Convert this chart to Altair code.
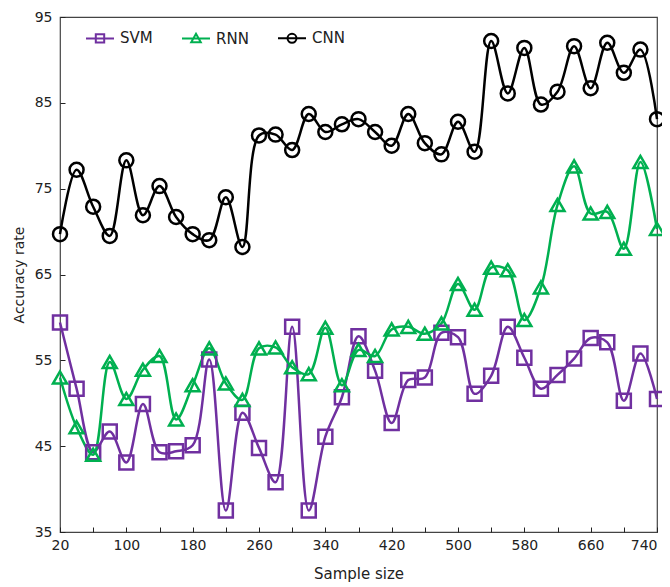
import altair as alt
import pandas as pd

sample_size = list(range(20, 741, 20))

svm = [59.4, 51.7, 44.3, 46.7, 43.1, 49.9, 44.3, 44.4, 45.1, 55.1,
       37.5, 48.9, 44.8, 40.8, 58.9, 37.5, 46.1, 50.7, 57.8, 53.8,
       47.7, 52.7, 53.0, 58.2, 57.7, 51.1, 53.2, 58.9, 55.3, 51.7,
       53.3, 55.2, 57.6, 57.1, 50.3, 55.8, 50.5]

rnn = [53.0, 47.2, 44.0, 54.8, 50.5, 53.9, 55.5, 48.1, 52.1, 56.4,
       52.3, 50.4, 56.4, 56.5, 54.2, 53.4, 58.8, 52.1, 56.2, 55.5,
       58.6, 58.9, 58.1, 59.3, 63.9, 60.9, 65.8, 65.5, 59.7, 63.5,
       73.1, 77.6, 72.1, 72.3, 68.0, 78.1, 70.3]

cnn = [69.7, 77.2, 72.9, 69.5, 78.3, 71.9, 75.3, 71.7, 69.7, 69.0,
       74.0, 68.2, 81.2, 81.3, 79.5, 83.7, 81.6, 82.5, 83.1, 81.6,
       80.0, 83.7, 80.3, 79.0, 82.8, 79.3, 92.2, 86.1, 91.4, 84.8,
       86.3, 91.6, 86.7, 92.0, 88.5, 91.2, 83.1]

series_names = ["SVM", "RNN", "CNN"]
series_colors = ["#7030A0", "#00B050", "#000000"]
x_ticks = list(range(20, 741, 40))
y_ticks = [35, 45, 55, 65, 75, 85, 95]

rows = []
for name, vals in zip(series_names, [svm, rnn, cnn]):
    for xv, yv in zip(sample_size, vals):
        rows.append({"series": name, "x": xv, "y": yv})
df = pd.DataFrame(rows)

FONT = "DejaVu Sans"

x_enc = alt.X(
    "x:Q",
    scale=alt.Scale(domain=[20, 740], nice=False, zero=False),
    axis=alt.Axis(
        title="Sample size",
        values=x_ticks,
        labelExpr="(datum.value - 20) % 80 == 0 ? datum.label : ''",
        labelAlign=alt.condition("datum.value >= 740", alt.value("right"), alt.value("center")),
        offset=-5,
        domain=False,
        grid=False,
        tickSize=5,
        tickColor="#222",
        tickWidth=1,
        labelPadding=6,
        labelFlush=False,
        labelOverlap=False,
        titlePadding=14,
        titleFontSize=15,
    ),
)
y_enc = alt.Y(
    "y:Q",
    scale=alt.Scale(domain=[35, 95], nice=False, zero=False),
    axis=alt.Axis(
        title="Accuracy rate",
        values=y_ticks,
        offset=-5,
        domain=False,
        grid=False,
        tickSize=5,
        tickColor="#222",
        tickWidth=1,
        labelPadding=8,
        labelFlush=False,
        titlePadding=8,
    ),
)
color_scale = alt.Scale(domain=series_names, range=series_colors)

lines = alt.Chart(df).mark_line(
    interpolate="catmull-rom", strokeWidth=2.5
).encode(
    x=x_enc, y=y_enc,
    color=alt.Color("series:N", scale=color_scale, legend=None),
    detail="series:N",
)

points = alt.Chart(df).mark_point(
    filled=False, strokeWidth=2.5, size=196, opacity=1
).encode(
    x=x_enc, y=y_enc,
    color=alt.Color("series:N", scale=color_scale, legend=None),
    shape=alt.Shape(
        "series:N",
        scale=alt.Scale(domain=series_names, range=["square", "triangle-up", "circle"]),
        legend=None,
    ),
)

legend_paths = [
    "M-1,0L1,0M-0.3,-0.3L0.3,-0.3L0.3,0.3L-0.3,0.3Z",
    "M-1,0L1,0M0,-0.34L0.34,0.26L-0.34,0.26Z",
    "M-1,0L1,0M-0.32,0A0.32,0.32,0,1,1,0.32,0A0.32,0.32,0,1,1,-0.32,0Z",
]


def make_legend():
    return alt.Legend(
        title=None, orient="none", direction="horizontal",
        legendX=25, legendY=6,
        symbolSize=784, symbolStrokeWidth=2,
        labelFontSize=15, labelFont=FONT, labelColor="#222",
        labelOffset=5, columnPadding=25, padding=0,
        symbolFillColor="transparent",
    )


legend_layer = alt.Chart(df).transform_filter("false").mark_point(
    filled=False, strokeWidth=2, opacity=1
).encode(
    x=x_enc, y=y_enc,
    color=alt.Color("series:N", scale=color_scale, legend=make_legend()),
    shape=alt.Shape(
        "series:N",
        scale=alt.Scale(domain=series_names, range=legend_paths),
        legend=make_legend(),
    ),
)

chart = alt.layer(lines, points, legend_layer).resolve_scale(
    shape="independent"
).resolve_legend(
    color="independent", shape="independent"
).properties(
    width=597,
    height=515,
    autosize=alt.AutoSizeParams(type="none"),
    padding={"left": 52, "top": 9, "right": 5, "bottom": 52},
).configure_view(
    stroke="#444", strokeWidth=1.2
).configure_axis(
    labelFont=FONT, labelFontSize=14, labelColor="#222",
    titleFont=FONT, titleFontSize=14, titleColor="#222", titleFontWeight="normal",
)

chart.save("out.html", embed_options={"renderer": "svg", "actions": False})
